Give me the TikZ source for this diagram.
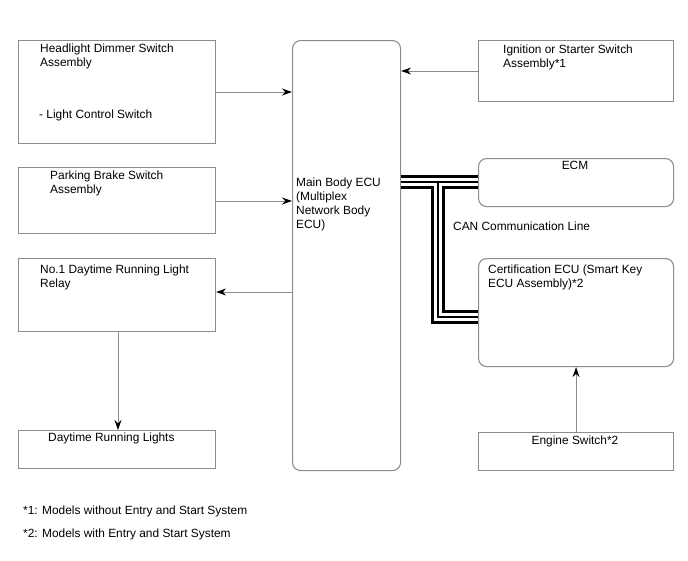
\documentclass[tikz,border=0pt]{standalone}
\usepackage{fontspec}
\setmainfont{Liberation Sans}
\usetikzlibrary{arrows.meta,calc}
\tikzset{
  box/.style={draw=black!45, line width=1.1pt, rectangle, inner sep=0pt, anchor=north west},
  rbox/.style={box, rounded corners=8pt},
  txt/.style={inner sep=0pt, anchor=north west, align=left, font=\fontsize{11.9}{14}\selectfont},
  ctxt/.style={inner sep=0pt, anchor=north, align=center, font=\fontsize{11.9}{14}\selectfont},
  arr/.style={draw=black!45, line width=1pt, -{Stealth[length=10pt,width=7pt,black]}},
}
\begin{document}
\begin{tikzpicture}[x=1pt,y=-1pt]
\useasboundingbox (0,0) rectangle (688,560);
% boxes
\node[box, minimum width=197pt, minimum height=103pt] (hd) at (18,40) {};
\node[box, minimum width=197pt, minimum height=66pt] (pb) at (18,167) {};
\node[box, minimum width=197pt, minimum height=73pt] (rl) at (18,258) {};
\node[box, minimum width=197pt, minimum height=38pt] (dl) at (18,430) {};
\node[rbox, minimum width=108pt, minimum height=430pt] (ecu) at (292,40) {};
\node[box, minimum width=195pt, minimum height=61pt] (ig) at (478,40) {};
\node[rbox, minimum width=195pt, minimum height=48pt] (ecm) at (478,158) {};
\node[rbox, minimum width=195pt, minimum height=108pt] (cert) at (478,258) {};
\node[box, minimum width=195pt, minimum height=38pt] (es) at (478,432) {};
% texts
\node[txt] (thd) at (40,44) {Headlight Dimmer Switch\\Assembly};
\node[txt] (tlc) at (39,109.5) {- Light Control Switch};
\node[txt] (tpb) at (50,171) {Parking Brake Switch\\Assembly};
\node[txt] (trl) at (40,265) {No.1 Daytime Running Light\\Relay};
\node[txt] (tdl) at (48,433) {Daytime Running Lights};
\node[txt] (tecu) at (296,177.5) {Main Body ECU\\(Multiplex\\Network Body\\ECU)};
\node[txt] (tig) at (503,45) {Ignition or Starter Switch\\Assembly*1};
\node[ctxt] (tecm) at (575,161) {ECM};
\node[txt] (tcert) at (488,265) {Certification ECU (Smart Key\\ECU Assembly)*2};
\node[ctxt] (tes) at (575,436) {Engine Switch*2};
\node[txt] (tcan) at (453,222) {CAN Communication Line};
\node[txt] (fn1) at (23,506) {*1: Models without Entry and Start System};
\node[txt] (fn2) at (23,529) {*2: Models with Entry and Start System};
% arrows
\draw[arr] (hd.east |- 0,92) -- (ecu.west |- 0,92);
\draw[arr] (pb.east |- 0,201) -- (ecu.west |- 0,201);
\draw[arr] (ecu.west |- 0,292) -- (rl.east |- 0,292);
\draw[arr] (ig.west |- 0,71) -- (ecu.east |- 0,71);
\draw[arr] (rl.south -| 118,0) -- (dl.north -| 118,0);
\draw[arr] (es.north) -- (cert.south);
% CAN bus
\coordinate (j) at (438,182);
\coordinate (jb) at (438,317);
\foreach \w/\c in {14pt/black, 8pt/white, 1.8pt/black}{
  \draw[line width=\w, \c, line join=miter] (ecu.east |- j) -- (ecm.west |- j);
  \draw[line width=\w, \c, line join=miter] (j) -- (jb) -- (cert.west |- jb);
}
\end{tikzpicture}
\end{document}
